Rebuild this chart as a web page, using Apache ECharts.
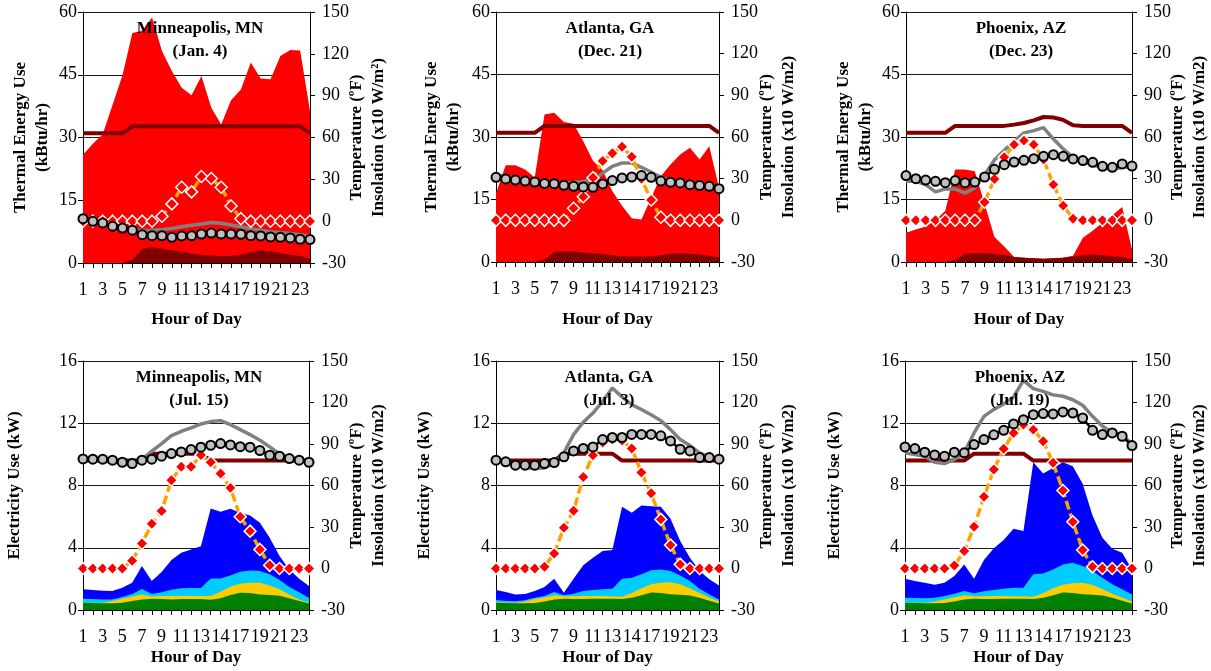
<!DOCTYPE html>
<html>
<head>
<meta charset="utf-8">
<script src="https://cdn.jsdelivr.net/npm/echarts@6/dist/echarts.min.js"></script>
<style>
  html, body { margin: 0; padding: 0; background: #fff; }
  #chart { width: 1211px; height: 671px; }
</style>
</head>
<body>
<div id="chart"></div>
<script>
// hour labels as printed in the original (position 15 reads "14")
const hourLabels = ['1','2','3','4','5','6','7','8','9','10','11','12','13','14','14','16','17','18','19','20','21','22','23','24'];

// Minneapolis, Jan. 4  (kBtu/hr left, degF / x10 W/m2 right)
const mnJanHeating  = [25.9,28.5,30.8,37.8,44.9,55.0,55.5,58.7,50.7,45.9,41.9,40.1,44.7,37.1,33.1,38.9,41.5,47.9,44.1,43.9,49.5,50.9,50.8,36.4];
const mnJanWater    = [0,0,0,0,0,0.8,3.4,3.75,3.4,3.0,2.8,2.2,2.0,1.8,1.6,1.75,2.0,2.55,3.0,2.8,2.4,2.0,1.7,1.0];
const mnJanSetpoint = [63,63,63,63,63,68,68,68,68,68,68,68,68,68,68,68,68,68,68,68,68,68,68,63];
const mnJanGrey     = [1.5,-0.3,-1.5,-3.5,-5,-6.3,-6.8,-6.5,-6.0,-5.3,-4.0,-3.0,-2.0,-1.0,-1.5,-2.7,-4.0,-5.5,-6.5,-7.5,-8.2,-8.8,-9.8,-10.8];
const mnJanOutdoor  = [1.8,-0.1,-1.3,-3.7,-4.9,-6.5,-9.7,-10.4,-10.4,-11.6,-10.6,-10.4,-9.2,-8.5,-9.2,-9.2,-9.4,-10.4,-10.6,-11.3,-11.6,-12.0,-13.0,-13.2];
const mnJanSolar    = [0,0,0,0,0,0,0,0,3.5,12.4,24.3,21,32,30.6,24.3,10.9,1.8,0,0,0,0,0,0,0];

// Atlanta, Dec. 21
const atlDecHeating  = [16.5,23.2,23.2,22.2,20.3,35.4,35.8,33.6,33.2,29.0,24.3,22.0,17.0,13.5,10.5,10.2,15.4,20.6,23.4,25.8,27.4,24.6,27.8,17.8];
const atlDecWater    = [0,0,0,0,0,0.6,2.4,2.6,2.5,2.3,2.1,1.9,1.6,1.4,1.3,1.3,1.4,1.6,2.0,2.1,2.0,1.8,1.5,1.0];
const atlDecSetpoint = [63,63,63,63,63,68,68,68,68,68,68,68,68,68,68,68,68,68,68,68,68,68,68,63];
const atlDecGrey     = [33.0,31.5,30.3,29.3,28.4,27.5,27.0,26.5,27.2,28.0,29.0,34.0,38.9,41.3,41.3,38.2,34.8,31.0,28.6,27.4,26.2,25.2,24.2,23.3];
const atlDecOutdoor  = [31.0,29.8,29.0,28.3,27.6,26.6,26.4,25.2,24.5,24.0,23.8,26.2,28.6,30.5,31.2,32.2,31.0,28.3,27.4,26.9,25.7,25.0,24.5,22.8];
const atlDecSolar    = [0,0,0,0,0,0,0,0,8.7,17,30.7,42.7,48.3,53,45.8,30,14.6,2.2,0,0,0,0,0,0];

// Phoenix, Dec. 23
const phxDecHeating  = [7.0,7.8,8.5,10.0,12.3,22.2,22.2,21.8,14.0,6.0,3.7,1.2,1.0,0.9,0.8,0.9,1.0,1.5,5.8,7.5,9.5,11.2,13.2,3.0];
const phxDecWater    = [0,0,0,0,0,0.5,2.0,2.1,2.1,1.9,1.7,1.2,1.0,0.9,0.8,0.9,1.0,1.3,1.7,1.8,1.6,1.4,1.2,0.7];
const phxDecSetpoint = [63,63,63,63,63,68,68,68,68,68,68,68.9,70.1,72,74.4,74,72.3,68.4,68,68,68,68,68,63];
const phxDecGrey     = [28.1,28.1,25.7,20.5,22.6,22.6,19.6,23.3,32.9,43.5,50.5,56.9,63.0,64.6,66.8,58.5,51.4,45.3,42,40.1,37.7,36.5,38.2,38.2];
const phxDecOutdoor  = [32.2,30,29,28.1,27.1,28.6,27.1,27.6,31.2,36.7,40.1,42,43.2,44.4,46.1,47.3,46.1,44.2,43,41.8,38.9,38.2,40.6,39.1];
const phxDecSolar    = [0,0,0,0,0,0,0,0,13,29.8,45.4,54.5,57.4,54.5,43.7,25.7,10.6,1.2,0,0,0,0,0,0];

// Minneapolis, Jul. 15  (kW left; layers are cumulative tops)
const mnJulCooling  = [1.33,1.28,1.24,1.22,1.43,1.75,2.82,1.86,2.44,3.21,3.68,3.89,4.1,6.52,6.31,6.5,6.25,6.07,5.6,4.64,3.47,2.61,2.01,1.54];
const mnJulFans     = [0.72,0.7,0.68,0.68,0.83,1.03,1.35,1.03,1.14,1.3,1.4,1.42,1.42,2.02,2.02,2.22,2.46,2.54,2.5,2.29,1.93,1.48,1.14,0.77];
const mnJulAppl     = [0.48,0.47,0.46,0.58,0.73,0.86,1.0,0.86,0.9,0.9,0.92,0.9,0.9,0.9,1.18,1.5,1.69,1.75,1.75,1.58,1.33,1.0,0.68,0.47];
const mnJulBase     = [0.47,0.45,0.43,0.43,0.47,0.58,0.68,0.73,0.71,0.68,0.71,0.71,0.71,0.66,0.75,0.96,1.11,1.09,1.0,0.96,0.92,0.75,0.58,0.41];
const mnJulSetpoint = [78,78,78,78,78,78,78,83,83,83,83,83,83,78,78,78,78,78,78,78,78,78,78,78];
const mnJulGrey     = [78,77.8,77.6,76.8,75.9,74.9,78.8,84.8,90.3,96.1,99.2,101.6,104.5,106.2,106.9,104,100.4,96.8,92.7,87.9,82.8,80.4,78.3,76.8];
const mnJulOutdoor  = [79.2,79.0,79.0,78.3,76.8,75.9,78.3,79.0,81.2,83.1,84.3,86,87.7,89.1,90.3,89.3,88.1,87.7,85.3,81.9,81.2,79.5,78.3,76.8];
const mnJulSolar    = [0,0,0,0,0,5.6,18.1,32.3,41.5,63.8,73.5,73.5,82.1,76.8,68.7,58.3,37.4,27,13.8,2.3,0,0,0,0];

// Atlanta, Jul. 3
const atlJulCooling  = [1.28,1.16,1.0,1.03,1.22,1.48,2.01,1.11,2.01,2.87,3.36,3.79,3.85,6.63,6.25,6.72,6.67,6.63,5.86,4.43,3.36,2.5,1.97,1.58];
const atlJulFans     = [0.64,0.58,0.56,0.62,0.79,0.9,1.16,0.94,1.05,1.22,1.28,1.33,1.37,2.01,2.07,2.29,2.55,2.61,2.5,2.22,1.86,1.37,1.0,0.68];
const atlJulAppl     = [0.5,0.48,0.47,0.55,0.7,0.8,0.95,0.88,0.88,0.9,0.9,0.9,0.88,0.85,1.1,1.4,1.65,1.75,1.78,1.65,1.4,1.1,0.8,0.55];
const atlJulBase     = [0.47,0.45,0.43,0.43,0.45,0.55,0.68,0.72,0.71,0.7,0.72,0.72,0.72,0.7,0.78,0.95,1.12,1.1,1.02,0.98,0.93,0.78,0.6,0.42];
const atlJulSetpoint = [78,78,78,78,78,78,78,83,83,83,83,83,83,78,78,78,78,78,78,78,78,78,78,78];
const atlJulGrey     = [78.3,76.8,75.2,72.7,72.3,72.7,75.9,83.6,96.8,105.7,112.4,120.9,130.5,124,118.5,114.9,111.2,106.9,100.4,93.2,88.9,83.6,80.7,78.8];
const atlJulOutdoor  = [78.3,77.1,74.7,74.7,74.7,75.9,76.6,80.7,85,86.8,87.9,93.2,94.7,94.7,96.9,96.9,96.9,95.9,92.2,86.2,85,80.2,80.2,79];
const atlJulSolar    = [0,0,0,0,0,1.3,10.9,29.4,41.7,66.2,81.9,91,93.5,92.5,86.7,69.4,54.4,35.5,16.9,3,0,0,0,0];

// Phoenix, Jul. 19
const phxJulCooling  = [2.01,1.86,1.75,1.63,1.75,2.18,2.93,2.01,3.21,3.96,4.49,5.22,5.07,9.5,8.77,9.13,9.5,9.24,8.11,6.07,4.64,3.94,3.68,2.61];
const phxJulFans     = [0.79,0.77,0.75,0.79,0.9,1.05,1.22,1.07,1.2,1.28,1.37,1.43,1.43,2.29,2.35,2.61,2.93,3.04,2.82,2.5,2.07,1.65,1.33,1.0];
const phxJulAppl     = [0.48,0.47,0.46,0.55,0.68,0.8,0.95,0.88,0.88,0.9,0.9,0.88,0.88,0.85,1.1,1.4,1.62,1.72,1.75,1.6,1.35,1.05,0.8,0.55];
const phxJulBase     = [0.47,0.45,0.43,0.43,0.45,0.55,0.68,0.72,0.71,0.7,0.72,0.72,0.72,0.7,0.78,0.95,1.12,1.1,1.02,0.98,0.93,0.78,0.6,0.42];
const phxJulSetpoint = [78,78,78,78,78,78,78,83,83,83,83,83,83,78,78,78,78,78,78,78,78,78,78,78];
const phxJulGrey     = [83.6,82.4,81.2,76.8,75.9,78.8,83.6,98,110,115,119,124,136,130,128,125.5,124.5,122,118,110,103,98,96.5,90];
const phxJulOutdoor  = [87.9,86.7,84.1,82.1,81.2,84.1,83.6,89.6,93.2,96.6,99.9,104.5,107.6,111.2,112,111.7,113.2,112.4,108.8,99.9,96.8,98,95.6,88.9];
const phxJulSolar    = [0,0,0,0,0,2.2,12.6,30.2,51.8,71.5,86.5,98,104,100.4,92,76.4,56.4,33.8,13.4,1.2,0,0,0,0];

const FONT = 'Liberation Serif';
const thermalName = 'Thermal Energy Use\n(kBtu/hr)';
const elecName = 'Electricity Use (kW)';

// layout of the six panels (pixel boxes)
const panels = [
  { title: 'Minneapolis, MN\n(Jan. 4)', left: 83, top: 12, width: 227, height: 251, tx: 200, ty: 17,
    yName: thermalName, yMax: 60, yStep: 15, lGap: 29, rGap: 36, xGap: 46,
    rName: 'Temperature (\u00baF)\nInsolation (x10 W/m\u00b2)',
    areas: [[mnJanHeating, '#ff0000'], [mnJanWater, '#800000']],
    setpoint: mnJanSetpoint, grey: mnJanGrey, outdoor: mnJanOutdoor, solar: mnJanSolar },
  { title: 'Atlanta, GA\n(Dec. 21)', left: 496, top: 12, width: 223, height: 250, tx: 610, ty: 17,
    yName: thermalName, yMax: 60, yStep: 15, lGap: 31, rGap: 37, xGap: 47,
    rName: 'Temperature (\u00baF)\nInsolation (x10 W/m2)',
    areas: [[atlDecHeating, '#ff0000'], [atlDecWater, '#800000']],
    setpoint: atlDecSetpoint, grey: atlDecGrey, outdoor: atlDecOutdoor, solar: atlDecSolar },
  { title: 'Phoenix, AZ\n(Dec. 23)', left: 906, top: 12, width: 226, height: 250, tx: 1021, ty: 17,
    yName: thermalName, yMax: 60, yStep: 15, lGap: 29, rGap: 35, xGap: 47,
    rName: 'Temperature (\u00baF)\nInsolation (x10 W/m2)',
    areas: [[phxDecHeating, '#ff0000'], [phxDecWater, '#800000']],
    setpoint: phxDecSetpoint, grey: phxDecGrey, outdoor: phxDecOutdoor, solar: phxDecSolar },
  { title: 'Minneapolis, MN\n(Jul. 15)', left: 83, top: 361, width: 226, height: 249, tx: 199, ty: 366,
    yName: elecName, yMax: 16, yStep: 4, lGap: 57, rGap: 37, xGap: 37,
    rName: 'Temperature (\u00baF)\nInsolation (x10 W/m2)',
    areas: [[mnJulCooling, '#0000ff'], [mnJulFans, '#00ccff'], [mnJulAppl, '#ffcc00'], [mnJulBase, '#008000']],
    setpoint: mnJulSetpoint, grey: mnJulGrey, outdoor: mnJulOutdoor, solar: mnJulSolar },
  { title: 'Atlanta, GA\n(Jul. 3)', left: 496, top: 361, width: 223, height: 249, tx: 609, ty: 366,
    yName: elecName, yMax: 16, yStep: 4, lGap: 60, rGap: 37, xGap: 37,
    rName: 'Temperature (\u00baF)\nInsolation (x10 W/m2)',
    areas: [[atlJulCooling, '#0000ff'], [atlJulFans, '#00ccff'], [atlJulAppl, '#ffcc00'], [atlJulBase, '#008000']],
    setpoint: atlJulSetpoint, grey: atlJulGrey, outdoor: atlJulOutdoor, solar: atlJulSolar },
  { title: 'Phoenix, AZ\n(Jul. 19)', left: 905, top: 361, width: 227, height: 249, tx: 1020, ty: 366,
    yName: elecName, yMax: 16, yStep: 4, lGap: 59, rGap: 35, xGap: 37,
    rName: 'Temperature (\u00baF)\nInsolation (x10 W/m2)',
    areas: [[phxJulCooling, '#0000ff'], [phxJulFans, '#00ccff'], [phxJulAppl, '#ffcc00'], [phxJulBase, '#008000']],
    setpoint: phxJulSetpoint, grey: phxJulGrey, outdoor: phxJulOutdoor, solar: phxJulSolar }
];

const nameStyle = { fontFamily: FONT, fontWeight: 'bold', fontSize: 17, lineHeight: 22, color: '#000' };
const labelStyle = { fontFamily: FONT, fontSize: 18, color: '#000' };
const black = { color: '#000', width: 1 };

const option = { animation: false, title: [], grid: [], xAxis: [], yAxis: [], series: [] };

panels.forEach(function (p, i) {
  option.grid.push({ left: p.left, top: p.top, width: p.width, height: p.height, outerBoundsMode: 'none' });
  option.title.push({
    text: p.title, left: p.tx, top: p.ty, textAlign: 'center', padding: 0,
    textStyle: { fontFamily: FONT, fontWeight: 'bold', fontSize: 17, lineHeight: 23, color: '#000' }
  });
  option.xAxis.push({
    type: 'category', gridIndex: i, data: hourLabels, boundaryGap: false,
    name: 'Hour of Day', nameLocation: 'middle', nameGap: p.xGap, nameTextStyle: nameStyle, nameMoveOverlap: false,
    axisLine: { onZero: false, lineStyle: black },
    axisTick: { interval: 0, length: 5, lineStyle: black },
    axisLabel: Object.assign({ interval: 1, margin: 18, hideOverlap: false }, labelStyle),
    splitLine: { show: false }
  });
  option.yAxis.push({
    type: 'value', gridIndex: i, position: 'left', min: 0, max: p.yMax, interval: p.yStep,
    name: p.yName, nameLocation: 'middle', nameGap: p.lGap, nameTextStyle: nameStyle, nameMoveOverlap: false,
    axisLine: { show: true, lineStyle: black },
    axisTick: { show: true, length: 5, lineStyle: black },
    axisLabel: Object.assign({ margin: 6 }, labelStyle),
    splitLine: { show: true, lineStyle: { color: '#1a1a1a', width: 1 } }
  });
  option.yAxis.push({
    type: 'value', gridIndex: i, position: 'right', min: -30, max: 150, interval: 30,
    name: p.rName, nameLocation: 'middle', nameGap: p.rGap, nameTextStyle: nameStyle, nameMoveOverlap: false,
    axisLine: { show: true, lineStyle: black },
    axisTick: { show: true, length: 5, lineStyle: black },
    axisLabel: Object.assign({ margin: 12 }, labelStyle),
    splitLine: { show: false }
  });

  p.areas.forEach(function (a) {
    option.series.push({
      type: 'line', xAxisIndex: i, yAxisIndex: 2 * i, data: a[0], symbol: 'none',
      lineStyle: { width: 0 }, areaStyle: { color: a[1], opacity: 1 }, z: 2, silent: true
    });
  });
  option.series.push({
    type: 'line', xAxisIndex: i, yAxisIndex: 2 * i + 1, data: p.setpoint, symbol: 'none',
    lineStyle: { color: '#800000', width: 4 }, z: 3
  });
  option.series.push({
    type: 'line', xAxisIndex: i, yAxisIndex: 2 * i + 1, data: p.grey, symbol: 'none',
    lineStyle: { color: '#808080', width: 3.5 }, z: 4
  });
  option.series.push({
    type: 'line', xAxisIndex: i, yAxisIndex: 2 * i + 1, data: p.solar,
    symbol: 'diamond', symbolSize: 12, showAllSymbol: true,
    itemStyle: { color: '#ff0000', borderColor: '#ffffff', borderWidth: 1.5 },
    lineStyle: { color: '#ffa200', width: 3.5, type: [9, 4] }, z: 5
  });
  option.series.push({
    type: 'line', xAxisIndex: i, yAxisIndex: 2 * i + 1, data: p.outdoor,
    symbol: 'circle', symbolSize: 9, showAllSymbol: true,
    itemStyle: { color: '#c0c0c0', borderColor: '#000', borderWidth: 2 },
    lineStyle: { color: '#000', width: 2.5 }, z: 6
  });
});

const chart = echarts.init(document.getElementById('chart'));
chart.setOption(option);
</script>
</body>
</html>
